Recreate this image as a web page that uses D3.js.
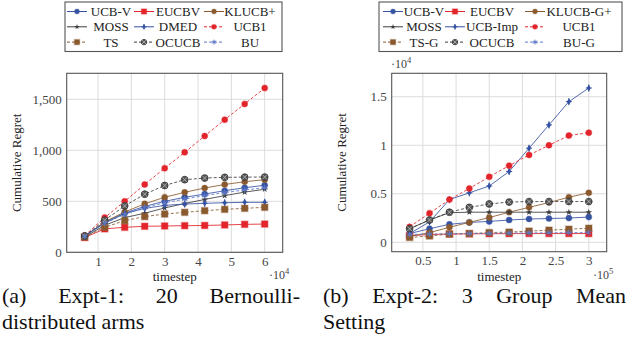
<!DOCTYPE html>
<meta charset="utf-8">
<style>
body { margin: 0; background: #fff; }
svg text { font-family: "Liberation Serif", "Times New Roman", serif; }
</style>
<svg id="svg" width="626" height="340" font-family="Liberation Serif, serif"></svg>
<script src="https://d3js.org/d3.v7.min.js"></script>
<script>
// Expt-1: timestep in units of 10^4
var steps1 = [0.6, 1.2, 1.8, 2.4, 3.0, 3.6, 4.2, 4.8, 5.4, 6.0];
var ucbv1   = [160, 295, 385, 450, 500, 539, 571, 604, 633, 657];
var eucbv1  = [145, 230, 245, 255, 258, 261, 263, 268, 274, 277];
var klucb1  = [155, 300, 395, 475, 540, 588, 630, 665, 692, 712];
var moss1   = [150, 265, 340, 383, 435, 478, 518, 556, 590, 618];
var dmed1   = [160, 285, 380, 430, 460, 473, 480, 486, 490, 490];
var ucb1_1  = [165, 340, 500, 665, 825, 980, 1140, 1300, 1455, 1610];
var ts1     = [150, 245, 310, 350, 375, 392, 408, 421, 431, 441];
var ocucb1  = [160, 315, 455, 570, 655, 712, 728, 735, 737, 738];
var bu1     = [155, 285, 372, 440, 485, 522, 556, 586, 612, 632];
var names1 = ["UCB-V", "EUCBV", "KLUCB+", "MOSS", "DMED", "UCB1", "TS", "OCUCB", "BU"];

// Expt-2: timestep in units of 10^5, regret in units of 10^4
var steps2 = [0.3, 0.6, 0.9, 1.2, 1.5, 1.8, 2.1, 2.4, 2.7, 3.0];
var ucbv2   = [0.09, 0.14, 0.185, 0.205, 0.215, 0.23, 0.24, 0.245, 0.25, 0.26];
var eucbv2  = [0.07, 0.08, 0.085, 0.087, 0.088, 0.089, 0.09, 0.09, 0.09, 0.09];
var klucb2  = [0.06, 0.10, 0.155, 0.205, 0.255, 0.31, 0.36, 0.41, 0.465, 0.51];
var moss2   = [0.14, 0.23, 0.305, 0.31, 0.31, 0.31, 0.31, 0.31, 0.31, 0.31];
var ucbimp2 = [0.09, 0.21, 0.44, 0.51, 0.58, 0.73, 0.97, 1.21, 1.45, 1.59];
var ucb1_2  = [0.16, 0.30, 0.44, 0.555, 0.675, 0.79, 0.90, 1.00, 1.10, 1.13];
var tsg2    = [0.05, 0.065, 0.085, 0.09, 0.10, 0.105, 0.115, 0.125, 0.135, 0.145];
var ocucb2  = [0.14, 0.23, 0.31, 0.36, 0.395, 0.415, 0.42, 0.42, 0.42, 0.42];
var bug2    = [0.08, 0.085, 0.088, 0.09, 0.092, 0.095, 0.097, 0.098, 0.10, 0.10];
var names2 = ["UCB-V", "EUCBV", "KLUCB-G+", "MOSS", "UCB-Imp", "UCB1", "TS-G", "OCUCB", "BU-G"];

var xTicks1 = [1, 2, 3, 4, 5, 6];
var yTicks1 = [0, 500, 1000, 1500];
var yLabels1 = ["0", "500", "1,000", "1,500"];
var xTicks2 = [0.5, 1, 1.5, 2, 2.5, 3];
var xLabels2 = ["0.5", "1", "1.5", "2", "2.5", "3"];
var yTicks2 = [0, 0.5, 1, 1.5];
var yLabels2 = ["0", "0.5", "1", "1.5"];

var captionA = [["(a)", "Expt-1:", "20", "Bernoulli-"], ["distributed arms"]];
var captionB = [["(b)", "Expt-2:", "3", "Group", "Mean"], ["Setting"]];

// style per series slot (same in both plots)
var BLUE = "#3653a3", RED = "#e3242b", BROWN = "#8a5a2e", DARK = "#3c3c3c", LBLUE = "#5f78c8";
var styles = [
    {color: BLUE,  dash: null,  mark: "circle"},
    {color: RED,   dash: null,  mark: "square"},
    {color: BROWN, dash: null,  mark: "circle"},
    {color: DARK,  dash: null,  mark: "star"},
    {color: BLUE,  dash: null,  mark: "plus"},
    {color: RED,   dash: "3,2", mark: "circle"},
    {color: BROWN, dash: "3,2", mark: "square"},
    {color: DARK,  dash: "3,2", mark: "otimes"},
    {color: LBLUE, dash: "3,2", mark: "asterisk"}
];

var svg = d3.select("#svg");

function drawMark(g, type, color, s) {
    if (type == "circle") {
        g.append("circle").attr("r", 3 * s).attr("fill", color)
            .attr("stroke", color).attr("stroke-opacity", 0.35).attr("stroke-width", 1.2);
    } else if (type == "square") {
        g.append("rect").attr("x", -3.2 * s).attr("y", -3.2 * s)
            .attr("width", 6.4 * s).attr("height", 6.4 * s).attr("fill", color)
            .attr("stroke", color).attr("stroke-opacity", 0.35).attr("stroke-width", 1.4);
    } else if (type == "star") {
        g.append("path").attr("d", d3.symbol(d3.symbolStar, 14 * s * s)()).attr("fill", color);
    } else if (type == "plus") {
        g.append("path").attr("d", d3.symbol(d3.symbolDiamond, 14 * s * s)()).attr("fill", color);
        g.append("path").attr("d", "M" + (-3 * s) + ",0H" + (3 * s) + "M0," + (-3.5 * s) + "V" + (3.5 * s))
            .attr("stroke", color).attr("stroke-width", 1);
    } else if (type == "otimes") {
        var r = 3.4 * s, d = r * 0.7;
        g.append("circle").attr("r", r).attr("fill", "#555").attr("stroke", "#333").attr("stroke-width", 0.8);
        g.append("path").attr("d", "M" + (-d) + "," + (-d) + "L" + d + "," + d + "M" + (-d) + "," + d + "L" + d + "," + (-d))
            .attr("stroke", "#bbb").attr("stroke-width", 0.8);
    } else if (type == "asterisk") {
        var p = "", r2 = 3 * s;
        for (var k = 0; k < 3; k++) {
            var a = Math.PI / 2 + k * Math.PI / 3;
            p += "M" + (r2 * Math.cos(a)) + "," + (r2 * Math.sin(a)) + "L" + (-r2 * Math.cos(a)) + "," + (-r2 * Math.sin(a));
        }
        g.append("path").attr("d", p).attr("stroke", color).attr("stroke-width", 1);
    }
}

function drawPlot(opt) {
    var x = d3.scaleLinear().domain(opt.xDomain).range([opt.x0, opt.x1]);
    var y = d3.scaleLinear().domain(opt.yDomain).range([opt.y1, opt.y0]);

    var grid = svg.append("g").attr("stroke", "#dcdcdc").attr("stroke-width", 1);
    opt.xTicks.forEach(function(t) {
        grid.append("line").attr("x1", x(t)).attr("x2", x(t)).attr("y1", opt.y0).attr("y2", opt.y1);
    });
    opt.yTicks.forEach(function(t) {
        grid.append("line").attr("y1", y(t)).attr("y2", y(t)).attr("x1", opt.x0).attr("x2", opt.x1);
    });

    var xAxis = svg.append("g").attr("transform", "translate(0," + opt.y1 + ")")
        .call(d3.axisBottom(x).tickValues(opt.xTicks).tickSize(0).tickPadding(4)
            .tickFormat(function(d, i) { return opt.xLabels ? opt.xLabels[i] : d; }));
    var yAxis = svg.append("g").attr("transform", "translate(" + opt.x0 + ",0)")
        .call(d3.axisLeft(y).tickValues(opt.yTicks).tickSize(0).tickPadding(5)
            .tickFormat(function(d, i) { return opt.yLabels[i]; }));
    [xAxis, yAxis].forEach(function(a) {
        a.attr("font-family", null);
        a.select(".domain").remove();
        a.selectAll("text").attr("font-size", 13).attr("fill", "#444");
    });

    var line = d3.line().x(function(d) { return x(d[0]); }).y(function(d) { return y(d[1]); });
    opt.series.forEach(function(vals, i) {
        var st = styles[i];
        var pts = opt.steps.map(function(s, j) { return [s, vals[j]]; });
        var g = svg.append("g");
        g.append("path").datum(pts).attr("d", line).attr("fill", "none")
            .attr("stroke", st.color).attr("stroke-width", 1)
            .attr("stroke-opacity", 0.85)
            .attr("stroke-dasharray", st.dash);
        pts.forEach(function(p) {
            var m = g.append("g").attr("transform", "translate(" + x(p[0]) + "," + y(p[1]) + ")");
            drawMark(m, st.mark, st.color, 1);
        });
    });

    svg.append("rect").attr("x", opt.x0).attr("y", opt.y0)
        .attr("width", opt.x1 - opt.x0).attr("height", opt.y1 - opt.y0)
        .attr("fill", "none").attr("stroke", "#555").attr("stroke-width", 1.1);

    // axis titles
    var cx = (opt.x0 + opt.x1) / 2, cy = (opt.y0 + opt.y1) / 2;
    svg.append("text").attr("x", cx).attr("y", 281).attr("text-anchor", "middle")
        .attr("font-size", 13).attr("fill", "#222").text("timestep");
    svg.append("text").attr("transform", "translate(" + opt.yTitleX + "," + cy + ") rotate(-90)")
        .attr("text-anchor", "middle").attr("font-size", 13).attr("fill", "#222").text("Cumulative Regret");

    // exponent labels
    opt.exps.forEach(function(e) {
        var t = svg.append("text").attr("x", e.x).attr("y", e.y).attr("font-size", 12).attr("fill", "#444");
        t.append("tspan").text("\u00b710");
        t.append("tspan").attr("font-size", 8.5).attr("dy", -5).text(e.p);
    });

    // legend
    var lg = opt.legend;
    svg.append("rect").attr("x", lg.x0).attr("y", 2).attr("width", lg.x1 - lg.x0).attr("height", 49.5)
        .attr("fill", "#fff").attr("stroke", "#555").attr("stroke-width", 1.1);
    opt.names.forEach(function(n, i) {
        var col = i % 3, row = Math.floor(i / 3);
        var st = styles[i];
        var ly = 11.5 + row * 15.3;
        var sx = lg.sample[col];
        svg.append("line").attr("x1", sx).attr("x2", sx + 20).attr("y1", ly).attr("y2", ly)
            .attr("stroke", st.color).attr("stroke-width", 1).attr("stroke-dasharray", st.dash);
        var m = svg.append("g").attr("transform", "translate(" + (sx + 10) + "," + ly + ")");
        drawMark(m, st.mark, st.color, 0.8);
        svg.append("text").attr("x", lg.textC[col]).attr("y", ly + 4.5).attr("text-anchor", "middle")
            .attr("font-size", 13).attr("fill", "#222").text(n);
    });
}

drawPlot({
    x0: 66.7, x1: 282.7, y0: 73.3, y1: 252.3,
    xDomain: [0.06, 6.54], yDomain: [0, 1755],
    xTicks: xTicks1, yTicks: yTicks1, yLabels: yLabels1,
    steps: steps1,
    series: [ucbv1, eucbv1, klucb1, moss1, dmed1, ucb1_1, ts1, ocucb1, bu1],
    names: names1,
    yTitleX: 21,
    exps: [{x: 269, y: 279, p: "4"}],
    legend: {x0: 65, x1: 282, sample: [67, 134, 204], textC: [111, 178, 250]}
});

drawPlot({
    x0: 391.7, x1: 606.7, y0: 73.3, y1: 251.7,
    xDomain: [0.03, 3.27], yDomain: [-0.097, 1.742],
    xTicks: xTicks2, xLabels: xLabels2, yTicks: yTicks2, yLabels: yLabels2,
    steps: steps2,
    series: [ucbv2, eucbv2, klucb2, moss2, ucbimp2, ucb1_2, tsg2, ocucb2, bug2],
    names: names2,
    yTitleX: 346,
    exps: [{x: 391, y: 68, p: "4"}, {x: 593, y: 279, p: "5"}],
    legend: {x0: 379, x1: 622, sample: [383, 445, 525], textC: [424, 492, 579]}
});

// captions, words spread as in the justified original
function caption(lines, starts, ends) {
    lines.forEach(function(words, li) {
        var y = 303 + li * 26;
        if (words.length == 1) {
            svg.append("text").attr("x", starts[0]).attr("y", y).attr("font-size", 22)
                .attr("fill", "#111").text(words[0]);
            return;
        }
        var first = starts[0], last = ends[0];
        var sel = words.map(function(w) {
            return svg.append("text").attr("y", y).attr("font-size", 22).attr("fill", "#111").text(w);
        });
        var widths = sel.map(function(s) { return s.node().getComputedTextLength(); });
        var total = d3.sum(widths);
        var gap = (last - first - total) / (words.length - 1);
        var xx = first;
        sel.forEach(function(s, i) { s.attr("x", xx); xx += widths[i] + gap; });
    });
}
caption(captionA, [2, 2], [300, 0]);
caption(captionB, [323, 323], [626, 0]);
</script>
